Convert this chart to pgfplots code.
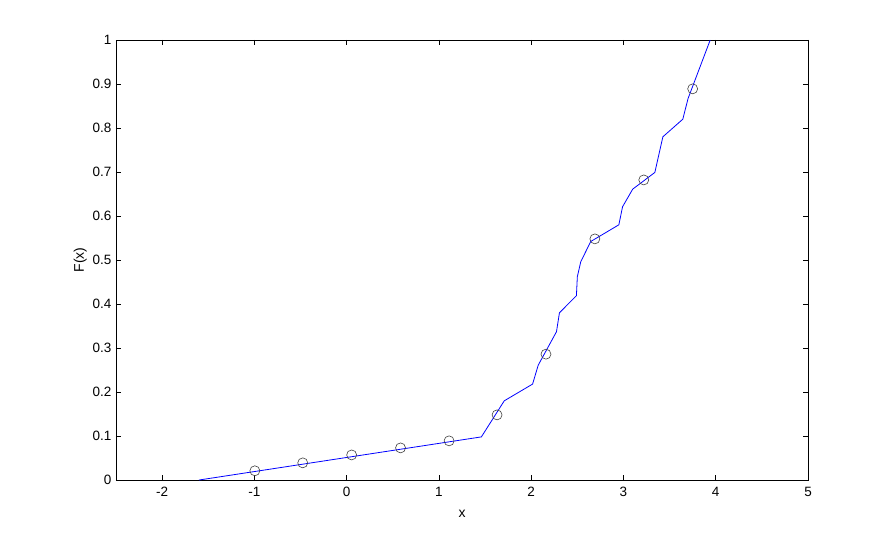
\documentclass[border=0pt]{standalone}
\usepackage{fontspec}
\setmainfont{Liberation Sans}
\usepackage{pgfplots}
\pgfplotsset{compat=1.18}
\begin{document}
\begin{tikzpicture}
\begin{axis}[
  scale only axis,
  width=692pt, height=440pt,
  xmin=-2.5, xmax=5, ymin=0, ymax=1,
  xtick={-2,-1,0,1,2,3,4,5},
  ytick={0,0.1,0.2,0.3,0.4,0.5,0.6,0.7,0.8,0.9,1},
  yticklabels={0,0.1,0.2,0.3,0.4,0.5,0.6,0.7,0.8,0.9,1},
  xticklabels={-2,-1,0,1,2,3,4,5},
  tick align=inside,
  major tick length=5pt,
  tick style={black, line width=0.6pt},
  axis line style={line width=0.6pt},
  /pgf/number format/assume math mode=true,
  tick label style={font=\fontsize{13.5}{15}\selectfont},
  label style={font=\fontsize{14}{16}\selectfont},
  xticklabel style={yshift=-4pt},
  yticklabel style={xshift=-1pt},
  xlabel={x}, ylabel={F(x)},
  xlabel style={yshift=-6pt},
  ylabel style={yshift=-1pt},
  clip=false,
]
\path (rel axis cs:-0.1676,-0.1364) rectangle (rel axis cs:1.1257,1.0909);
\addplot[blue, line width=0.8pt, mark=none] coordinates {
(-1.60,0.000) (1.46,0.098) (1.708,0.180) (2.015,0.218) (2.076,0.261)
(2.274,0.337) (2.306,0.380) (2.49,0.419) (2.50,0.462) (2.537,0.496)
(2.645,0.542) (2.95,0.580) (2.99,0.621) (3.10,0.661) (3.34,0.699)
(3.427,0.780) (3.643,0.820) (3.70,0.867) (3.94,1.000)
};
\addplot[only marks, mark=o, mark size=5pt, mark options={black!75, line width=0.6pt}] coordinates {
(-0.995,0.021) (-0.476,0.039) (0.054,0.057) (0.584,0.073) (1.11,0.089)
(1.63,0.148) (2.16,0.286) (2.69,0.548) (3.22,0.682) (3.75,0.889)
};
\end{axis}
\end{tikzpicture}
\end{document}
